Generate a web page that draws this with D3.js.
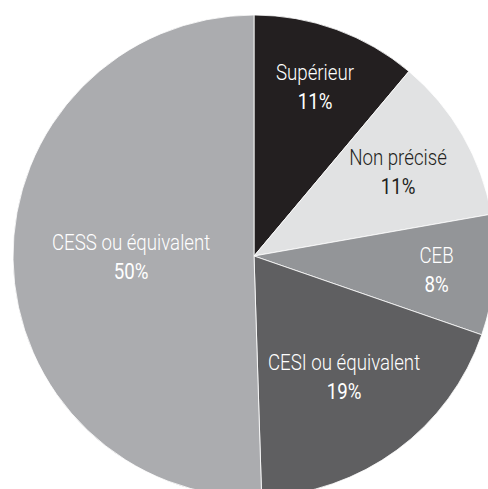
<!DOCTYPE html>
<html>
<head>
<meta charset="utf-8">
<script src="https://cdn.jsdelivr.net/npm/d3@7"></script>
<style>
  body { margin: 0; background: #fff; }
  text { font-family: "Roboto", "Liberation Sans", sans-serif; }
</style>
</head>
<body>
<div id="chart"></div>
<script>
// data
const categories = ["Supérieur", "Non précisé", "CEB", "CESI ou équivalent", "CESS ou équivalent"];
const values = [11, 11, 8, 19, 50];
const colors = ["#231f20", "#e1e2e3", "#939598", "#5f5f61", "#abacaf"];
const textColors = ["#fff", "#231f20", "#fff", "#fff", "#fff"];

const width = 488, height = 489;
const cx = 254, cy = 256, radius = 241;
// label distance from centre, as a share of the radius (hand placed in the original)
const labelRadius = [0.74, 0.69, 0.76, 0.63, 0.51];

const svg = d3.select("#chart").append("svg")
  .attr("width", width)
  .attr("height", height);

const g = svg.append("g").attr("transform", `translate(${cx},${cy})`);

const pie = d3.pie().sort(null).value(d => d.value);
const arc = d3.arc().innerRadius(0).outerRadius(radius);

const data = categories.map((c, i) => ({ name: c, value: values[i], color: colors[i], text: textColors[i], lr: labelRadius[i] }));
const arcs = pie(data);

g.selectAll("path")
  .data(arcs)
  .enter()
  .append("path")
    .attr("d", arc)
    .attr("fill", d => d.data.color)
    .attr("stroke", "#fff")
    .attr("stroke-width", 0.8);

// condensed look: no narrow font installed, so squeeze horizontally
const labels = g.selectAll("g.label")
  .data(arcs)
  .enter()
  .append("g")
    .attr("class", "label")
    .attr("transform", d => {
      const a = (d.startAngle + d.endAngle) / 2;
      const r = radius * d.data.lr;
      return `translate(${Math.sin(a) * r},${-Math.cos(a) * r}) scale(0.85,1)`;
    });

labels.append("text")
  .attr("text-anchor", "middle")
  .attr("y", -8)
  .style("font-size", "22px")
  .style("font-weight", 300)
  .style("fill", d => d.data.text)
  .text(d => d.data.name);

labels.append("text")
  .attr("text-anchor", "middle")
  .attr("y", 21)
  .style("font-size", "22px")
  .style("font-weight", 400)
  .style("fill", d => d.data.text)
  .text(d => d.data.value + "%");
</script>
</body>
</html>
